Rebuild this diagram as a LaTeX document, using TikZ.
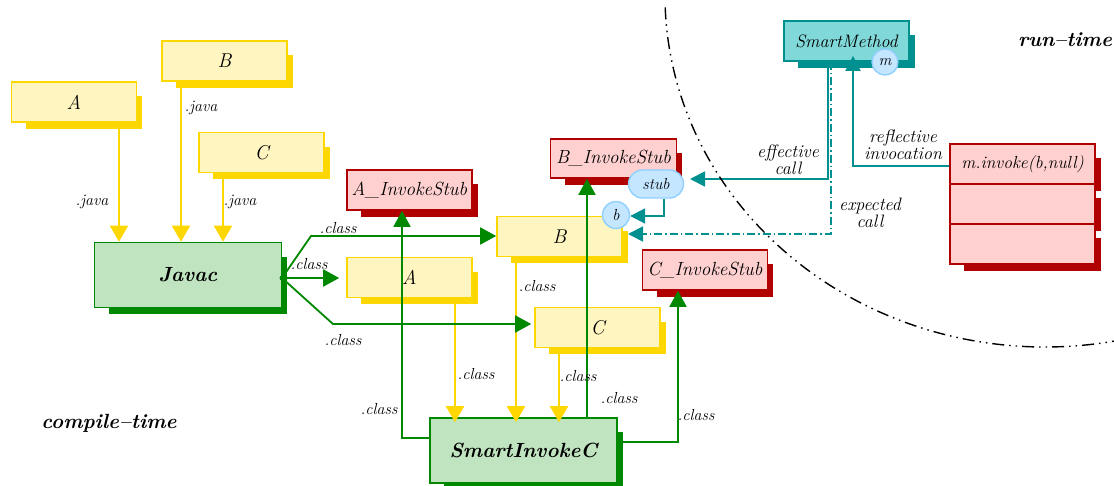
\documentclass[tikz,border=0pt]{standalone}
\usepackage{fontspec}
\usetikzlibrary{arrows.meta,calc,shapes.misc}
\definecolor{yfill}{HTML}{FFF5C0}
\definecolor{yline}{HTML}{FFD700}
\definecolor{gfill}{HTML}{C0E4C0}
\definecolor{gline}{HTML}{008800}
\definecolor{rfill}{HTML}{FFD0D0}
\definecolor{rline}{HTML}{B00000}
\definecolor{tfill}{HTML}{80D8D8}
\definecolor{tline}{HTML}{009090}
\definecolor{cfill}{HTML}{C4E6FF}
\definecolor{cline}{HTML}{90D0FF}
\definecolor{txt}{HTML}{000000}
\pgfdeclarelayer{bg}
\pgfsetlayers{bg,main}
\tikzset{
  box/.style={draw, line width=1.6pt, minimum width=125pt, minimum height=40pt, inner sep=0pt, text=txt, font=\fontsize{19}{21}\selectfont\itshape},
  ybox/.style={box, fill=yfill, draw=yline, font=\fontsize{20}{22}\selectfont\itshape},
  rbox/.style={box, fill=rfill, draw=rline},
  gbox/.style={box, fill=gfill, draw=gline, minimum width=187pt, minimum height=65pt, font=\fontsize{20.5}{23}\selectfont\bfseries\itshape},
  tbox/.style={box, fill=tfill, draw=tline, font=\fontsize{18}{20}\selectfont\itshape},
  bubble/.style={draw=cline, fill=cfill, line width=1.4pt, text=txt, font=\fontsize{16}{18}\selectfont\itshape, inner sep=0pt},
  lab/.style={text=txt, font=\fontsize{16}{18}\selectfont\itshape, inner sep=0pt},
  blab/.style={text=txt, font=\fontsize{18}{17}\selectfont\itshape, inner sep=0pt, align=center},
  zone/.style={text=txt, font=\fontsize{20.5}{22}\selectfont\bfseries\itshape, inner sep=0pt},
  yarr/.style={draw=yline, line width=2pt, -{Triangle[length=16pt,width=18pt]}},
  garr/.style={draw=gline, line width=1.8pt, -{Triangle[length=16pt,width=17pt]}},
  tarr/.style={draw=tline, line width=1.8pt, -{Triangle[length=15pt,width=15pt]}},
  tdash/.style={tarr, dash pattern=on 8pt off 3pt on 1.5pt off 3pt},
  border/.style={draw=black, line width=1.4pt, dash pattern=on 12pt off 5pt on 1.5pt off 5pt on 1.5pt off 5pt}
}
\begin{document}
\begin{tikzpicture}[x=1pt,y=-1pt]
\useasboundingbox (0,0) rectangle (1114,486);

% boxes
\node[ybox] (yA) at (74,102) {A};
\node[ybox] (yB) at (224.5,61) {B};
\node[ybox] (yC) at (261.5,152.5) {C};
\node[gbox] (jav) at (188,275) {Javac};
\node[ybox] (mA) at (409.5,277.5) {A};
\node[ybox] (mB) at (559.5,236.5) {B};
\node[ybox] (mC) at (597.5,327.5) {C};
\node[rbox] (sA) at (409.5,190) {A\_InvokeStub};
\node[rbox, minimum width=126pt, minimum height=39pt] (sB) at (613.5,158.5) {B\_InvokeStub};
\node[rbox] (sC) at (705,270) {C\_InvokeStub};
\node[gbox] (smc) at (523.5,450.5) {SmartInvokeC};
\node[tbox] (smm) at (846.5,41) {SmartMethod};
\node[rbox, minimum width=145pt, font=\fontsize{17.5}{20}\selectfont\itshape] (mi1) at (1022.5,164) {m.invoke(b,null)};
\node[rbox, minimum width=145pt] (mi2) at (1022.5,204) {};
\node[rbox, minimum width=145pt] (mi3) at (1022.5,244) {};

% shadows
\begin{pgfonlayer}{bg}
\foreach \n/\c in {yA/yline,yB/yline,yC/yline,mA/yline,mB/yline,mC/yline,jav/gline,smc/gline,sA/rline,sB/rline,sC/rline,smm/tline,mi1/rline,mi2/rline,mi3/rline}
  \fill[\c] ($(\n.north west)+(15,15)$) rectangle ($(\n.south east)+(5,6)$);
\end{pgfonlayer}

% bubbles
\node[bubble, circle, minimum size=26pt] (m) at (885,62) {m};
\node[bubble, rounded rectangle, minimum width=55pt, minimum height=28pt] (stub) at (656,184) {stub};
\node[bubble, circle, minimum size=27pt] (b) at (616,215) {b};

% yellow connectors
\draw[yarr] (yA.south -| 119,0) -- (jav.north -| 119,0);
\draw[yarr] (yB.south -| 181,0) -- (jav.north -| 181,0);
\draw[yarr] (yC.south -| 223,0) -- (jav.north -| 223,0);
\draw[yarr] (mA.south -| 455,0) -- ([yshift=-5pt]smc.north -| 455,0);
\draw[yarr] (mB.south -| 516,0) -- ([yshift=-5pt]smc.north -| 516,0);
\draw[yarr] (mC.south -| 559,0) -- ([yshift=-5pt]smc.north -| 559,0);

% green connectors
\coordinate (br) at (282,278);
\fill[gline] (br) circle (2.5pt);
\draw[garr] (br) -- (311,236) -- (mB.west |- 0,236);
\draw[garr, shorten >=7pt] (br) -- (mA.west |- 0,278);
\draw[garr, shorten >=3pt] (br) -- (333,324) -- (mC.west |- 0,324);
\draw[garr] (smc.west |- 0,438) -| (sA.south -| 402,0);
\draw[garr] (smc.north -| 587,0) -- (sB.south -| 587,0);
\draw[garr] (smc.east |- 0,442) -| (sC.south -| 678,0);

% teal connectors
\coordinate (ec) at (828,179);
\coordinate (xc) at (831,234);
\draw[tarr] (smm.south -| 828,0) -- (ec) -- (690,179);
\draw[tdash] (smm.south -| 831,0) -- (xc) -- (628,234);
\draw[tarr] (stub.south -| 664,0) -- (664,216) -- (b.east |- 0,216);
\draw[tarr] (mi1.west |- 0,166) -| ([yshift=6pt]smm.south -| 853,0);

% labels
\node[lab] (l1) at (92,202) {.java};
\node[lab] (l2) at (201,108) {.java};
\node[lab] (l3) at (240,202) {.java};
\node[lab] (l4) at (338,228) {.class};
\node[lab] (l5) at (309,264) {.class};
\node[lab] (l6) at (343,340) {.class};
\node[lab] (l7) at (476,374) {.class};
\node[lab] (l8) at (537,286) {.class};
\node[lab] (l9) at (578,376) {.class};
\node[lab] (l10) at (379,409) {.class};
\node[lab] (l11) at (619,398) {.class};
\node[lab] (l12) at (696,415) {.class};
\node[blab] (l13) at (788,160) {effective\\call};
\node[blab] (l14) at (870,213) {expected\\call};
\node[blab] (l15) at (903,145) {reflective\\invocation};
\node[zone] (rt) at (1065,40) {run--time};
\node[zone] (ct) at (109,423) {compile--time};

% boundary
\begin{scope}
\clip (0,0) rectangle (1114,486);
\draw[border] (665.2,7.3) arc[start angle=178, end angle=75, x radius=380, y radius=352];
\end{scope}
\end{tikzpicture}
\end{document}
